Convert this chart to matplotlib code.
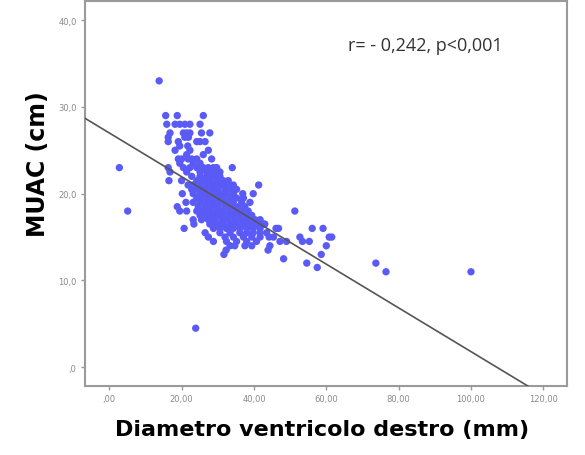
import matplotlib
matplotlib.use("Agg")
import matplotlib.pyplot as plt
from matplotlib.ticker import FuncFormatter

# Right ventricle diameter (mm) vs mid-upper arm circumference (cm), one row per MUAC level
diam_mm = [
    15.6, 18.8, 26.0,
    15.9, 18.2, 19.5, 20.9, 22.3, 25.1,
    16.8, 20.5, 21.4, 22.3, 25.5, 27.8,
    16.3, 20.9, 21.9,
    16.3, 19.1, 24.2, 25.1, 26.5,
    19.5, 21.7,
    18.2, 22.3, 27.4,
    21.4, 26.0,
    19.1, 20.0, 21.8, 22.8, 24.2, 28.3,
    19.5, 23.2, 25.1,
    2.8, 16.3, 20.5, 22.3, 24.2, 26.0, 27.4, 28.8, 29.7, 34.0,
    16.8, 21.4, 25.1, 26.9, 28.8, 30.6,
    22.8, 25.1, 26.9, 28.3, 29.7, 30.6,
    16.5, 20.0, 24.2, 26.0, 27.8, 29.7, 31.5, 32.9,
    21.8, 23.2, 25.1, 26.9, 28.8, 30.6, 32.4, 34.3, 41.3,
    22.8, 24.6, 26.5, 28.3, 30.1, 32.0, 33.8, 35.2,
    20.2, 23.2, 25.1, 26.9, 28.8, 30.6, 32.4, 34.3, 36.9, 39.8,
    24.2, 26.0, 27.8, 29.7, 31.5, 33.4, 35.2, 37.1,
    21.2, 23.2, 25.1, 26.9, 28.8, 30.6, 32.4, 34.3, 36.6, 38.9,
    18.8, 24.6, 26.5, 28.3, 30.1, 32.0, 33.8, 35.7, 37.5,
    5.1, 19.5, 21.4, 24.2, 26.0, 27.8, 29.7, 31.5, 33.4, 35.2, 37.1, 38.4, 51.3,
    25.1, 26.9, 28.8, 30.6, 32.4, 34.3, 36.1, 38.0, 39.4,
    23.2, 25.5, 27.4, 29.2, 31.1, 32.9, 34.7, 36.6, 38.4, 40.3, 41.7,
    23.4, 27.8, 29.7, 31.5, 33.4, 35.2, 37.1, 38.9, 40.7, 42.6, 43.0,
    20.7, 28.8, 30.6, 32.4, 34.3, 36.1, 38.0, 39.8, 41.7, 46.1, 46.8, 56.1, 59.1,
    26.5, 30.6, 33.4, 36.1, 38.0, 39.8, 41.7, 43.5,
    27.4, 32.0, 34.3, 37.1, 39.4, 41.7, 44.2, 45.4, 52.7, 60.8, 61.5,
    28.8, 32.4, 35.2, 38.0, 40.7, 47.2, 49.0, 53.4, 55.3,
    33.4, 34.7, 37.5, 39.4, 44.4, 60.0,
    32.3, 43.9,
    31.7, 58.6,
    48.2,
    54.6, 73.7,
    57.5,
    76.5, 100.0,
    13.8,
    23.9,
]
muac_cm = [
    29.0, 29.0, 29.0,
    28.0, 28.0, 28.0, 28.0, 28.0, 28.0,
    27.0, 27.0, 27.0, 27.0, 27.0, 27.0,
    26.5, 26.5, 26.5,
    26.0, 26.0, 26.0, 26.0, 26.0,
    25.5, 25.5,
    25.0, 25.0, 25.0,
    24.5, 24.5,
    24.0, 24.0, 24.0, 24.0, 24.0, 24.0,
    23.5, 23.5, 23.5,
    23.0, 23.0, 23.0, 23.0, 23.0, 23.0, 23.0, 23.0, 23.0, 23.0,
    22.5, 22.5, 22.5, 22.5, 22.5, 22.5,
    22.0, 22.0, 22.0, 22.0, 22.0, 22.0,
    21.5, 21.5, 21.5, 21.5, 21.5, 21.5, 21.5, 21.5,
    21.0, 21.0, 21.0, 21.0, 21.0, 21.0, 21.0, 21.0, 21.0,
    20.5, 20.5, 20.5, 20.5, 20.5, 20.5, 20.5, 20.5,
    20.0, 20.0, 20.0, 20.0, 20.0, 20.0, 20.0, 20.0, 20.0, 20.0,
    19.5, 19.5, 19.5, 19.5, 19.5, 19.5, 19.5, 19.5,
    19.0, 19.0, 19.0, 19.0, 19.0, 19.0, 19.0, 19.0, 19.0, 19.0,
    18.5, 18.5, 18.5, 18.5, 18.5, 18.5, 18.5, 18.5, 18.5,
    18.0, 18.0, 18.0, 18.0, 18.0, 18.0, 18.0, 18.0, 18.0, 18.0, 18.0, 18.0, 18.0,
    17.5, 17.5, 17.5, 17.5, 17.5, 17.5, 17.5, 17.5, 17.5,
    17.0, 17.0, 17.0, 17.0, 17.0, 17.0, 17.0, 17.0, 17.0, 17.0, 17.0,
    16.5, 16.5, 16.5, 16.5, 16.5, 16.5, 16.5, 16.5, 16.5, 16.5, 16.5,
    16.0, 16.0, 16.0, 16.0, 16.0, 16.0, 16.0, 16.0, 16.0, 16.0, 16.0, 16.0, 16.0,
    15.5, 15.5, 15.5, 15.5, 15.5, 15.5, 15.5, 15.5,
    15.0, 15.0, 15.0, 15.0, 15.0, 15.0, 15.0, 15.0, 15.0, 15.0, 15.0,
    14.5, 14.5, 14.5, 14.5, 14.5, 14.5, 14.5, 14.5, 14.5,
    14.0, 14.0, 14.0, 14.0, 14.0, 14.0,
    13.5, 13.5,
    13.0, 13.0,
    12.5,
    12.0, 12.0,
    11.5,
    11.0, 11.0,
    33.0,
    4.5,
]

# Linear fit line
fit_intercept = 27.0
fit_slope = -0.252

x_ticks = [0, 20, 40, 60, 80, 100, 120]
y_ticks = [0, 10, 20, 30, 40]

fig = plt.figure(figsize=(5.85, 4.56), dpi=100)
ax = fig.add_axes([0.1453, 0.1513, 0.8237, 0.8443])

ax.scatter(diam_mm, muac_cm, s=28, color="#5a5af7", edgecolors="none", zorder=2)
ax.axline((0, fit_intercept), slope=fit_slope, color="#555555", lw=1.2, zorder=3)

ax.set_xlim(-6.7, 126.5)
ax.set_ylim(-2.16, 42.2)


def comma_fmt(decimals):
    def f(v, pos):
        s = f"{v:.{decimals}f}".replace(".", ",")
        return s[1:] if s.startswith("0,") else s
    return f


ax.set_xticks(x_ticks)
ax.set_yticks(y_ticks)
ax.xaxis.set_major_formatter(FuncFormatter(comma_fmt(2)))
ax.yaxis.set_major_formatter(FuncFormatter(comma_fmt(1)))
ax.tick_params(direction="out", length=3, width=1, color="#999999",
               labelcolor="#8a8a8a", labelsize=6, pad=3)

for sp in ax.spines.values():
    sp.set_color("#9a9a9a")
    sp.set_linewidth(1.5)

ax.text(0.546, 0.885, "r= - 0,242, p<0,001", transform=ax.transAxes,
        fontsize=13, color="#333333", family="Open Sans", va="center")

fig.text(0.551, 0.057, "Diametro ventricolo destro (mm)", ha="center", va="center",
         fontsize=16, fontweight="bold", family="DejaVu Sans")
fig.text(0.065, 0.641, "MUAC (cm)", ha="center", va="center", rotation=90,
         fontsize=17, fontweight="bold", family="DejaVu Sans")

fig.savefig("out.png", dpi=100)
